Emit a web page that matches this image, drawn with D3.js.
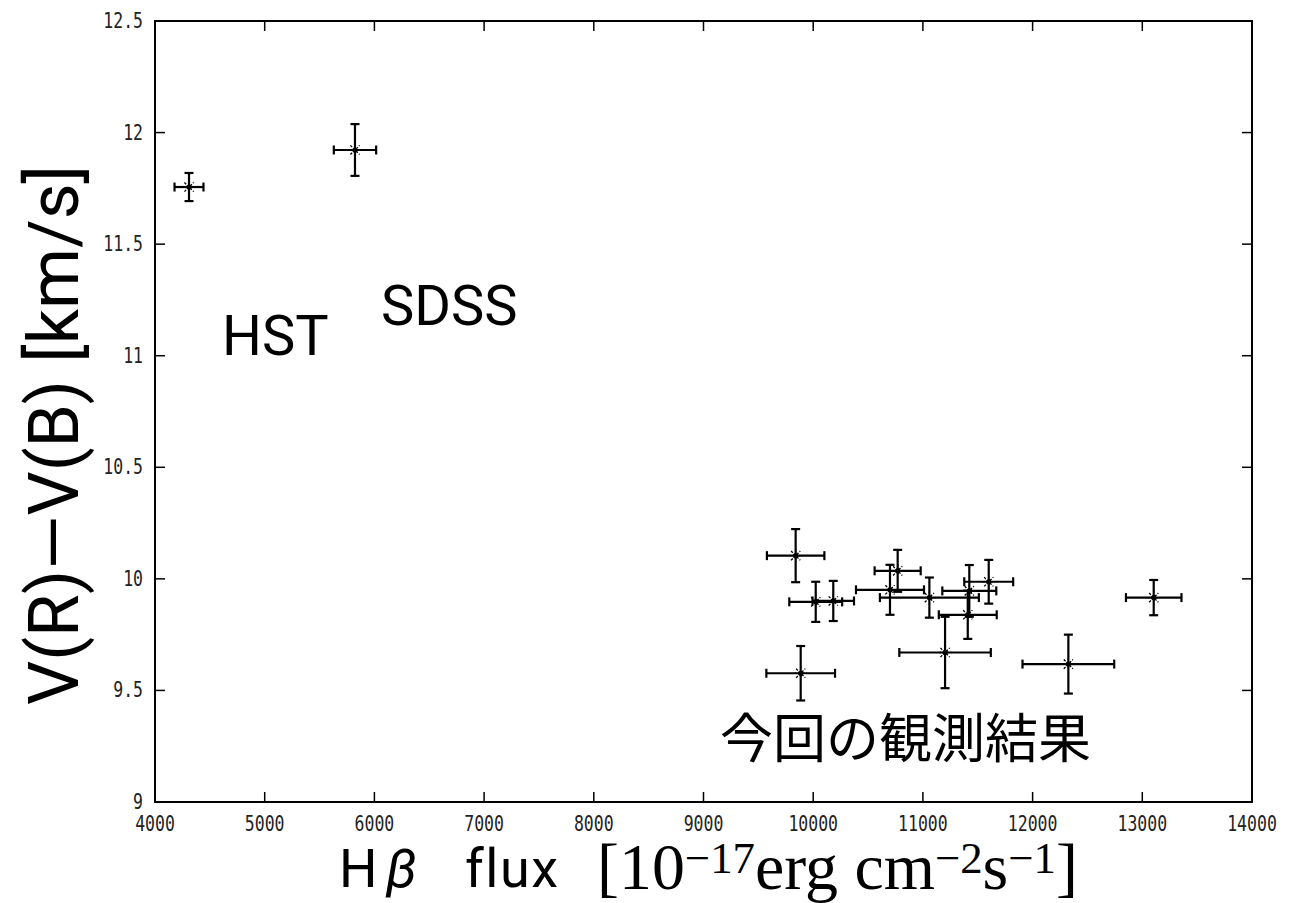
<!DOCTYPE html>
<html>
<head>
<meta charset="utf-8">
<script src="https://cdn.jsdelivr.net/npm/d3@7"></script>
<style>
  body { margin: 0; background: #fff; }
  svg { display: block; }
</style>
</head>
<body>
<div id="chart"></div>
<script>
// Hβ flux (10^-17 erg cm^-2 s^-1) and V(R)-V(B) (km/s), with errors
const flux    = [4310, 5823, 9840, 10023, 10183, 10770, 10700, 11059, 11423, 11600, 11409, 11202, 9886, 12326, 13104];
const fluxErr = [132, 193, 262, 241, 189, 210, 310, 451, 246, 223, 264, 417, 313, 418, 253];
const dv      = [11.756, 11.922, 10.104, 9.897, 9.901, 10.036, 9.951, 9.916, 9.946, 9.987, 9.839, 9.670, 9.577, 9.618, 9.916];
const dvErr   = [0.063, 0.116, 0.119, 0.090, 0.090, 0.094, 0.112, 0.090, 0.116, 0.098, 0.108, 0.160, 0.122, 0.132, 0.079];

const xTicks = [4000, 5000, 6000, 7000, 8000, 9000, 10000, 11000, 12000, 13000, 14000];
const yTicks = [9, 9.5, 10, 10.5, 11, 11.5, 12, 12.5];
const yTickLabels = ['9', '9.5', '10', '10.5', '11', '11.5', '12', '12.5'];

const svgWidth = 1308, svgHeight = 903;
const plot = { left: 155, right: 1252, top: 21, bottom: 802 };

const svg = d3.select('#chart')
    .append('svg')
    .attr('width', svgWidth)
    .attr('height', svgHeight);

// Scales
const x = d3.scaleLinear().domain([4000, 14000]).range([plot.left, plot.right]);
const y = d3.scaleLinear().domain([9, 12.5]).range([plot.bottom, plot.top]);

const tickLen = 10;

// Ticks (inward, mirrored on top / right)
const ticks = svg.append('g').attr('stroke', '#000').attr('stroke-width', 1.5);
xTicks.forEach(t => {
    ticks.append('line').attr('x1', x(t)).attr('x2', x(t)).attr('y1', plot.bottom).attr('y2', plot.bottom - tickLen);
    ticks.append('line').attr('x1', x(t)).attr('x2', x(t)).attr('y1', plot.top).attr('y2', plot.top + tickLen);
});
yTicks.forEach(t => {
    ticks.append('line').attr('y1', y(t)).attr('y2', y(t)).attr('x1', plot.left).attr('x2', plot.left + tickLen);
    ticks.append('line').attr('y1', y(t)).attr('y2', y(t)).attr('x1', plot.right).attr('x2', plot.right - tickLen);
});

// Frame
svg.append('rect')
    .attr('x', plot.left)
    .attr('y', plot.top)
    .attr('width', plot.right - plot.left)
    .attr('height', plot.bottom - plot.top)
    .attr('fill', 'none')
    .attr('stroke', '#000')
    .attr('stroke-width', 2);

// Tick labels (narrow, tall gnuplot-like digits)
const tickFont = '"DejaVu Sans Mono", "Liberation Mono", monospace';
svg.append('g')
    .selectAll('text')
    .data(xTicks)
    .enter()
    .append('text')
    .attr('transform', d => `translate(${x(d)}, ${plot.bottom + 29}) scale(1, 1.25)`)
    .attr('text-anchor', 'middle')
    .style('font-family', tickFont)
    .style('font-size', '16.5px')
    .style('fill', '#222')
    .text(d => d);

svg.append('g')
    .selectAll('text')
    .data(yTicks)
    .enter()
    .append('text')
    .attr('transform', d => `translate(${plot.left - 12}, ${y(d) + 7}) scale(1, 1.25)`)
    .attr('text-anchor', 'end')
    .style('font-family', tickFont)
    .style('font-size', '16.5px')
    .style('fill', '#222')
    .text((d, i) => yTickLabels[i]);

// Error bars
const cap = 4.5;
const bars = svg.append('g').attr('stroke', '#000').attr('stroke-width', 2.2).attr('fill', 'none');
flux.forEach((f, i) => {
    const cx = x(f), cy = y(dv[i]);
    const x0 = x(f - fluxErr[i]), x1 = x(f + fluxErr[i]);
    const y0 = y(dv[i] - dvErr[i]), y1 = y(dv[i] + dvErr[i]);
    bars.append('line').attr('x1', x0).attr('x2', x1).attr('y1', cy).attr('y2', cy);
    bars.append('line').attr('x1', x0).attr('x2', x0).attr('y1', cy - cap).attr('y2', cy + cap);
    bars.append('line').attr('x1', x1).attr('x2', x1).attr('y1', cy - cap).attr('y2', cy + cap);
    bars.append('line').attr('x1', cx).attr('x2', cx).attr('y1', y0).attr('y2', y1);
    bars.append('line').attr('x1', cx - cap).attr('x2', cx + cap).attr('y1', y0).attr('y2', y0);
    bars.append('line').attr('x1', cx - cap).attr('x2', cx + cap).attr('y1', y1).attr('y2', y1);
});

// Asterisk markers (gnuplot "*")
const arm = 6.5;
const stars = svg.append('g').attr('stroke', '#000').attr('stroke-width', 1.3);
flux.forEach((f, i) => {
    const cx = x(f), cy = y(dv[i]);
    [[1, 0], [0, 1], [0.707, 0.707], [0.707, -0.707]].forEach(([ux, uy]) => {
        stars.append('line')
            .attr('x1', cx - ux * arm).attr('y1', cy - uy * arm)
            .attr('x2', cx + ux * arm).attr('y2', cy + uy * arm)
            .attr('stroke-dasharray', '2.5,1.5');
    });
    stars.append('circle').attr('cx', cx).attr('cy', cy).attr('r', 2.6).attr('fill', '#000').attr('stroke', 'none');
});

// Annotations
const annot = svg.append('g')
    .style('font-family', 'Roboto, "Noto Sans", sans-serif')
    .style('font-size', '56px')
    .style('fill', '#000');
annot.append('text').attr('x', x(4611)).attr('y', y(11.004)).text('HST');
annot.append('text').attr('x', x(6060)).attr('y', y(11.138)).text('SDSS');
annot.append('text').attr('x', x(9150)).attr('y', y(9.198))
    .style('font-family', '"Noto Sans CJK JP", sans-serif')
    .style('font-size', '53px')
    .text('今回の観測結果');

// Fit a text element to a given width by scaling its font size
function fitWidth(sel, width) {
    const len = sel.node().getComputedTextLength();
    const fs = parseFloat(sel.style('font-size'));
    sel.style('font-size', (fs * width / len) + 'px');
}

// Y axis label
const yLabel = svg.append('text')
    .attr('transform', `translate(78, 435) rotate(-90)`)
    .attr('text-anchor', 'middle')
    .style('font-family', 'Roboto, "Noto Sans", sans-serif')
    .style('font-size', '66px')
    .style('fill', '#000')
    .text('V(R)\u2014V(B)  [km/s]');
fitWidth(yLabel, 540);

// X axis label: sans part
const sansFont = 'Roboto, "Noto Sans", sans-serif';
const xLab = svg.append('g')
    .style('font-family', sansFont)
    .style('font-size', '54px')
    .style('fill', '#000');
xLab.append('text').attr('x', 339).attr('y', 887).text('H');
xLab.append('text').attr('x', 386).attr('y', 887).style('font-style', 'italic').text('β');
xLab.append('text').attr('x', 465).attr('y', 887).style('letter-spacing', '1.5px').text('flux');

// X axis label: math part
const xLabelB = svg.append('text')
    .attr('x', 597)
    .attr('y', 889)
    .style('font-family', '"Liberation Serif", "DejaVu Serif", serif')
    .style('font-size', '52px')
    .style('fill', '#000');
xLabelB.append('tspan').text('[10');
xLabelB.append('tspan').attr('dy', '-0.36em').style('font-size', '0.68em').text('\u221217');
xLabelB.append('tspan').attr('dy', '0.245em').text('erg cm');
xLabelB.append('tspan').attr('dy', '-0.36em').style('font-size', '0.68em').text('\u22122');
xLabelB.append('tspan').attr('dy', '0.245em').text('s');
xLabelB.append('tspan').attr('dy', '-0.36em').style('font-size', '0.68em').text('\u22121');
xLabelB.append('tspan').attr('dy', '0.245em').text(']');
fitWidth(xLabelB, 481);
</script>
</body>
</html>
